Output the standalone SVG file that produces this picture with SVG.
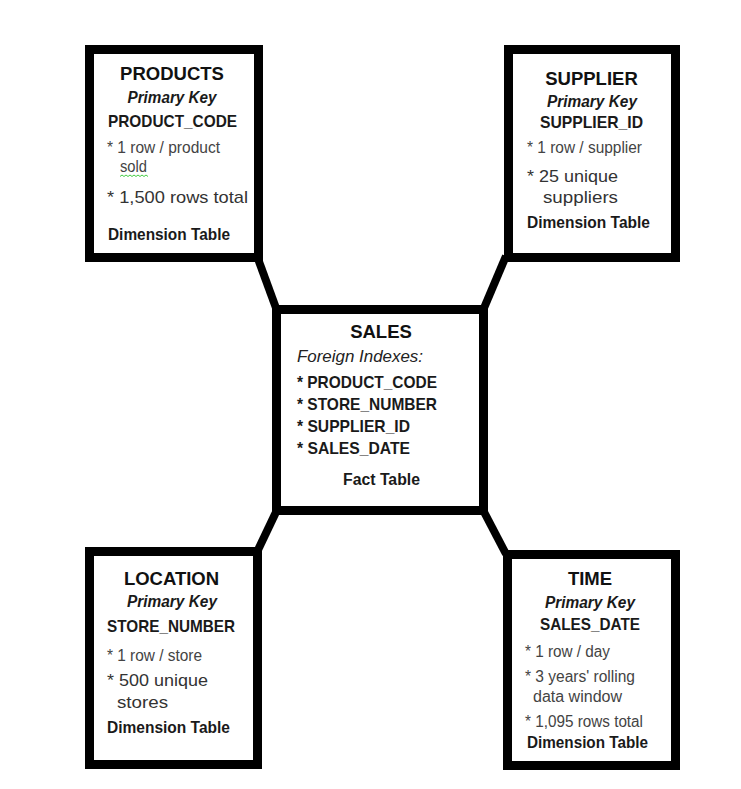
<svg xmlns="http://www.w3.org/2000/svg" width="741" height="789" viewBox="0 0 741 789">
<style>
text{font-family:"Liberation Sans",Arial,sans-serif;}
.box{fill:#fff;stroke:#000;stroke-width:9;}
.link{stroke:#000;stroke-width:8;fill:none;}
.title{font-size:18.5px;font-weight:bold;fill:#111;text-anchor:middle;}
.pk{font-size:16px;font-weight:bold;font-style:italic;fill:#1a1a1a;text-anchor:middle;}
.key{font-size:17px;font-weight:bold;fill:#1a1a1a;}
.mid{text-anchor:middle;}
.fi{font-size:16.5px;font-style:italic;fill:#222;}
.sm{font-size:16px;fill:#444;}
.lg{font-size:17px;fill:#333;}
.kind{font-size:16px;font-weight:bold;fill:#1a1a1a;}
</style>
<rect width="741" height="789" fill="#fff"/>
<g id="connectors">
<line class="link" x1="257" y1="256" x2="276" y2="308"/>
<line class="link" x1="506" y1="256" x2="484" y2="308"/>
<line class="link" x1="277" y1="510" x2="257" y2="552"/>
<line class="link" x1="483" y1="510" x2="506" y2="554"/>
</g>
<g id="products">
<rect class="box" x="89.5" y="49.5" width="169" height="208"/>
<text class="title" x="172" y="80">PRODUCTS</text>
<text class="pk" x="172" y="103" textLength="89" lengthAdjust="spacingAndGlyphs">Primary Key</text>
<text class="key mid" x="172.5" y="127" textLength="129" lengthAdjust="spacingAndGlyphs">PRODUCT_CODE</text>
<text class="sm" x="107" y="153" textLength="113" lengthAdjust="spacingAndGlyphs">* 1 row / product</text>
<text class="sm" x="120" y="172" textLength="27" lengthAdjust="spacingAndGlyphs">sold</text>
<path d="M120 176.5 l2 -1.5 l2 1.5 l2 -1.5 l2 1.5 l2 -1.5 l2 1.5 l2 -1.5 l2 1.5 l2 -1.5 l2 1.5 l2 -1.5 l2 1.5 l2 -1.5 l2 1.5" fill="none" stroke="#4c4" stroke-width="1"/>
<text class="lg" x="107" y="203" textLength="141" lengthAdjust="spacingAndGlyphs">* 1,500 rows total</text>
<text class="kind" x="108" y="240" textLength="122" lengthAdjust="spacingAndGlyphs">Dimension Table</text>
</g>
<g id="supplier">
<rect class="box" x="508.5" y="49.5" width="167" height="208"/>
<text class="title" x="591.5" y="85">SUPPLIER</text>
<text class="pk" x="592" y="107" textLength="90" lengthAdjust="spacingAndGlyphs">Primary Key</text>
<text class="key mid" x="591.5" y="128" textLength="103" lengthAdjust="spacingAndGlyphs">SUPPLIER_ID</text>
<text class="sm" x="527" y="153" textLength="115" lengthAdjust="spacingAndGlyphs">* 1 row / supplier</text>
<text class="lg" x="527" y="182" textLength="91" lengthAdjust="spacingAndGlyphs">* 25 unique</text>
<text class="lg" x="543" y="203" textLength="75" lengthAdjust="spacingAndGlyphs">suppliers</text>
<text class="kind" x="527" y="228" textLength="123" lengthAdjust="spacingAndGlyphs">Dimension Table</text>
</g>
<g id="sales">
<rect class="box" x="276.5" y="309.5" width="207" height="201"/>
<text class="title" x="381" y="338">SALES</text>
<text class="fi" x="297" y="362" textLength="126" lengthAdjust="spacingAndGlyphs">Foreign Indexes:</text>
<text class="key" x="297" y="388" textLength="140" lengthAdjust="spacingAndGlyphs">* PRODUCT_CODE</text>
<text class="key" x="297" y="410" textLength="140" lengthAdjust="spacingAndGlyphs">* STORE_NUMBER</text>
<text class="key" x="297" y="432" textLength="113" lengthAdjust="spacingAndGlyphs">* SUPPLIER_ID</text>
<text class="key" x="297" y="454" textLength="113" lengthAdjust="spacingAndGlyphs">* SALES_DATE</text>
<text class="kind mid" x="381.5" y="485" textLength="77" lengthAdjust="spacingAndGlyphs">Fact Table</text>
</g>
<g id="location">
<rect class="box" x="89.5" y="551.5" width="168" height="213"/>
<text class="title" x="171.5" y="585">LOCATION</text>
<text class="pk" x="172" y="607" textLength="90" lengthAdjust="spacingAndGlyphs">Primary Key</text>
<text class="key mid" x="171" y="632" textLength="128" lengthAdjust="spacingAndGlyphs">STORE_NUMBER</text>
<text class="sm" x="107" y="661" textLength="95" lengthAdjust="spacingAndGlyphs">* 1 row / store</text>
<text class="lg" x="107" y="686" textLength="101" lengthAdjust="spacingAndGlyphs">* 500 unique</text>
<text class="lg" x="117" y="708" textLength="51" lengthAdjust="spacingAndGlyphs">stores</text>
<text class="kind" x="107" y="733" textLength="123" lengthAdjust="spacingAndGlyphs">Dimension Table</text>
</g>
<g id="time">
<rect class="box" x="507.5" y="554.5" width="168" height="211"/>
<text class="title" x="590" y="585">TIME</text>
<text class="pk" x="590" y="608" textLength="90" lengthAdjust="spacingAndGlyphs">Primary Key</text>
<text class="key mid" x="590" y="630" textLength="100" lengthAdjust="spacingAndGlyphs">SALES_DATE</text>
<text class="sm" x="525" y="657" textLength="85" lengthAdjust="spacingAndGlyphs">* 1 row / day</text>
<text class="sm" x="525" y="682" textLength="110" lengthAdjust="spacingAndGlyphs">* 3 years' rolling</text>
<text class="sm" x="533" y="702" textLength="89" lengthAdjust="spacingAndGlyphs">data window</text>
<text class="sm" x="525" y="727" textLength="118" lengthAdjust="spacingAndGlyphs">* 1,095 rows total</text>
<text class="kind" x="527" y="748" textLength="121" lengthAdjust="spacingAndGlyphs">Dimension Table</text>
</g>
</svg>
